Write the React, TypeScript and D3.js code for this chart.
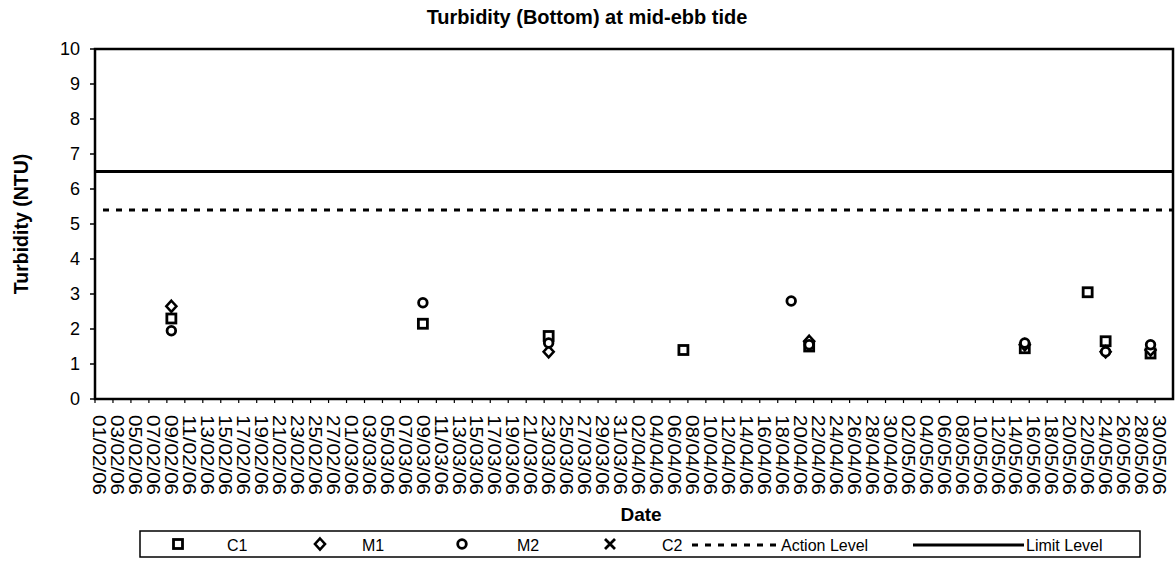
import * as d3 from "d3";

// sampling days and readings (NTU), null = no reading shown
const sampleDates = ["09/02/06", "09/03/06", "23/03/06", "07/04/06", "19/04/06", "21/04/06", "15/05/06", "22/05/06", "24/05/06", "29/05/06"];
const c1Values = [2.3, 2.15, 1.8, 1.4, null, 1.5, 1.45, 3.05, 1.65, 1.3];
const m1Values = [2.65, null, 1.35, null, null, 1.65, 1.55, null, 1.35, 1.4];
const m2Values = [1.95, 2.75, 1.6, null, 2.8, 1.55, 1.6, null, 1.35, 1.55];
const c2Values = [null, null, null, null, null, null, null, null, null, null];

const actionLevel = 5.4;
const limitLevel = 6.5;
const yTicks = [0, 1, 2, 3, 4, 5, 6, 7, 8, 9, 10];
const axisStart = new Date(2006, 1, 1);
const axisEnd = new Date(2006, 5, 1);

const W = 1175;
const H = 562;
const margin = { top: 49, right: 2, bottom: 163, left: 95 };
const font = "'Liberation Sans', Arial, sans-serif";

const fmt = d3.timeFormat("%d/%m/%y");
const days = d3.timeDay.range(axisStart, axisEnd).map(fmt);

function Marker({ type, cx, cy }: { type: string; cx: number; cy: number }) {
  if (type === "square")
    return <rect x={cx - 4.5} y={cy - 4.5} width={9} height={9} fill="white" stroke="black" strokeWidth={2.8} />;
  if (type === "diamond")
    return (
      <path
        d={`M${cx},${cy - 5.5}L${cx + 5},${cy}L${cx},${cy + 5.5}L${cx - 5},${cy}Z`}
        fill="white"
        stroke="black"
        strokeWidth={2.6}
      />
    );
  if (type === "circle") return <circle cx={cx} cy={cy} r={4.3} fill="white" stroke="black" strokeWidth={2.8} />;
  return (
    <path
      d={`M${cx - 5},${cy - 5}L${cx + 5},${cy + 5}M${cx + 5},${cy - 5}L${cx - 5},${cy + 5}`}
      stroke="black"
      strokeWidth={2.8}
    />
  );
}

const series = [
  { name: "C1", values: c1Values, marker: "square" },
  { name: "M1", values: m1Values, marker: "diamond" },
  { name: "M2", values: m2Values, marker: "circle" },
  { name: "C2", values: c2Values, marker: "cross" },
];

export default function App() {
  const x = d3.scaleBand().domain(days).range([margin.left, W - margin.right]);
  const y = d3.scaleLinear().domain([0, 10]).range([H - margin.bottom, margin.top]);
  const bw = x.bandwidth();
  const x0 = margin.left;
  const x1 = W - margin.right;
  const yBottom = y(0);

  const legendY = 545;
  const legendMarkers = [
    { mx: 178, tx: 227 },
    { mx: 320, tx: 362 },
    { mx: 462, tx: 517 },
    { mx: 610, tx: 662 },
  ];

  return (
    <svg width={W} height={H} style={{ position: "absolute", left: 0, top: 0, background: "white" }} fontFamily={font}>
      <text x={587} y={24} textAnchor="middle" fontSize={20} fontWeight="bold">
        Turbidity (Bottom) at mid-ebb tide
      </text>

      {/* reference levels */}
      <line x1={x0} x2={x1} y1={y(limitLevel)} y2={y(limitLevel)} stroke="black" strokeWidth={2.8} />
      <line
        x1={x0 + 8}
        x2={x1}
        y1={y(actionLevel)}
        y2={y(actionLevel)}
        stroke="black"
        strokeWidth={3}
        strokeDasharray="6,7"
      />

      {/* frame */}
      <rect x={x0} y={margin.top} width={x1 - x0} height={yBottom - margin.top} fill="none" stroke="black" strokeWidth={2.5} />

      {/* y axis */}
      {yTicks.map((t) => (
        <g key={t}>
          <line x1={x0 - 5} x2={x0} y1={y(t)} y2={y(t)} stroke="black" strokeWidth={1.5} />
          <text x={80} y={y(t)} dy="0.35em" textAnchor="end" fontSize={18}>
            {t}
          </text>
        </g>
      ))}
      <text
        transform={`translate(28,${(margin.top + yBottom) / 2}) rotate(-90)`}
        textAnchor="middle"
        fontSize={19.5}
        fontWeight="bold"
      >
        Turbidity (NTU)
      </text>

      {/* x axis */}
      {days.map((d, i) =>
        i % 2 === 0 ? (
          <g key={d}>
            <line x1={x(d)!} x2={x(d)!} y1={yBottom} y2={yBottom + 4} stroke="black" strokeWidth={1.2} />
            <text
              transform={`translate(${x(d)! + bw / 2},${yBottom + 16}) rotate(90)`}
              dy="0.35em"
              fontSize={18}
              textLength={80}
              lengthAdjust="spacingAndGlyphs"
            >
              {d}
            </text>
          </g>
        ) : null
      )}
      <text x={641} y={521} textAnchor="middle" fontSize={19} fontWeight="bold">
        Date
      </text>

      {/* data */}
      {series.map((s) =>
        s.values.map((v, i) =>
          v == null ? null : (
            <Marker key={s.name + i} type={s.marker} cx={x(sampleDates[i])! + bw / 2} cy={y(v)} />
          )
        )
      )}

      {/* legend */}
      <rect x={140} y={531} width={1000} height={26} fill="white" stroke="black" strokeWidth={1.5} />
      {series.map((s, i) => (
        <g key={s.name}>
          <Marker type={s.marker} cx={legendMarkers[i].mx} cy={legendY - 1} />
          <text x={legendMarkers[i].tx} y={legendY} dy="0.35em" fontSize={16}>
            {s.name}
          </text>
        </g>
      ))}
      <line x1={692} x2={777} y1={legendY} y2={legendY} stroke="black" strokeWidth={3} strokeDasharray="6,7" />
      <text x={781} y={legendY} dy="0.35em" fontSize={16}>
        Action Level
      </text>
      <line x1={913} x2={1024} y1={legendY} y2={legendY} stroke="black" strokeWidth={2.8} />
      <text x={1026} y={legendY} dy="0.35em" fontSize={16}>
        Limit Level
      </text>
    </svg>
  );
}
